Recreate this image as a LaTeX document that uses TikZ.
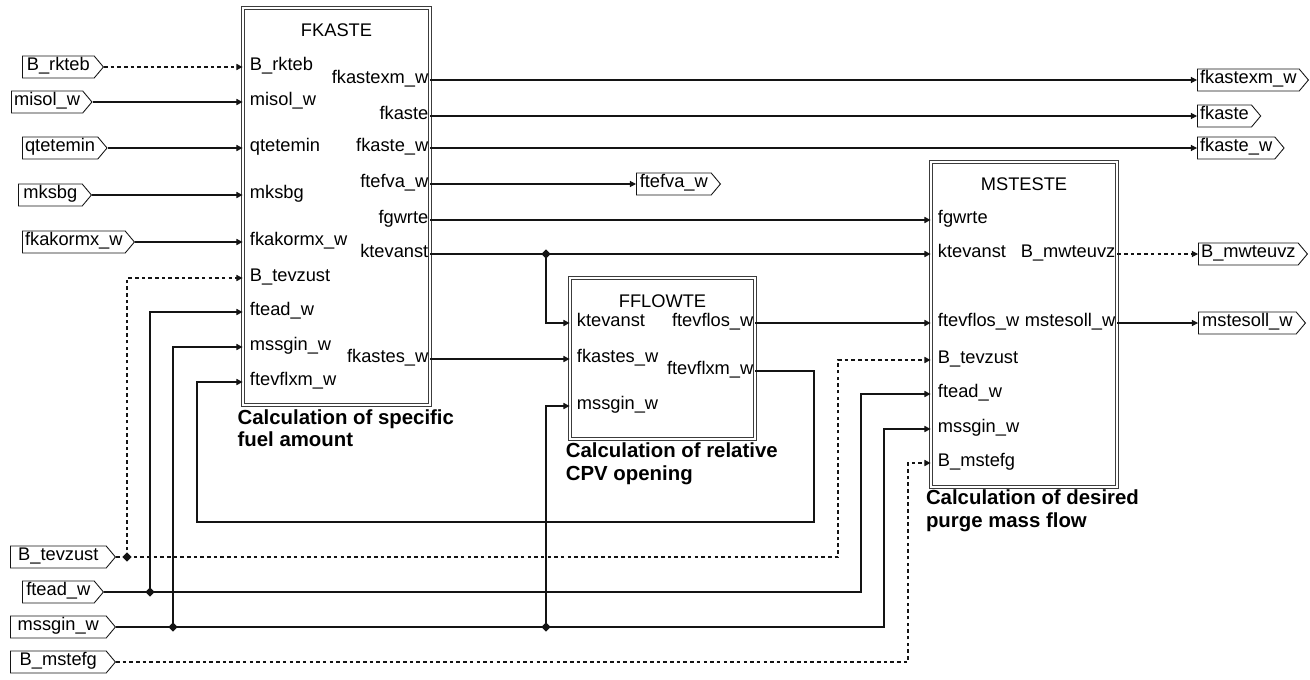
\documentclass[tikz,border=0pt]{standalone}
\usepackage{fontspec}
\setmainfont{Liberation Sans}
\usepackage{tikz}
\usetikzlibrary{shapes.geometric, shapes.symbols, arrows.meta, positioning, calc}
\definecolor{mydark}{RGB}{20,20,20}
\definecolor{myframe}{RGB}{60,60,60}
\newcommand{\portfont}{\fontsize{10.4}{12}\selectfont}
\newcommand{\capfont}{\fontsize{11.6}{13}\selectfont\bfseries}
\tikzset{
  fblock/.style={rectangle, draw=myframe, double, double distance=1.4pt,
    line width=0.5pt, inner sep=0pt},
  blocktitle/.style={font=\portfont, inner sep=0pt},
  portin/.style={anchor=west, font=\portfont, inner xsep=4pt, inner ysep=0pt,
    text height=7pt, text depth=2.5pt},
  portout/.style={anchor=east, font=\portfont, inner xsep=1pt, inner ysep=0pt,
    text height=7pt, text depth=2.5pt},
  sigtag/.style={signal, signal to=east, signal pointer angle=100, draw=mydark,
    line width=0.5pt, font=\portfont, inner xsep=1.5pt, inner ysep=0pt,
    text height=7pt, text depth=2.5pt, minimum height=0.44cm,
    anchor=west, minimum width=#1},
  junc/.style={diamond, fill=mydark, inner sep=0pt, minimum size=5.5pt},
  wire/.style={-{Triangle[length=3.5pt,width=3.5pt]}, line width=0.6pt, color=mydark},
  flagwire/.style={wire, dash pattern=on 2pt off 1.8pt},
  wireline/.style={line width=0.6pt, color=mydark},
  flagline/.style={wireline, dash pattern=on 2pt off 1.8pt},
  caption/.style={font=\capfont, align=left, anchor=north west, inner sep=0pt}
}

\begin{document}
\begin{tikzpicture}[x=0.02cm, y=-0.02cm]
  \useasboundingbox (0,0) rectangle (1310,679);

  % blocks
  \node[fblock, minimum width=3.74cm, minimum height=7.94cm] (fkaste) at (336.5,206.5) {};
  \node[fblock, minimum width=3.7cm, minimum height=3.22cm] (fflowte) at (662.5,358.5) {};
  \node[fblock, minimum width=3.72cm, minimum height=6.5cm] (msteste) at (1024,324.5) {};

  \node[blocktitle] at ([yshift=-13pt]fkaste.north) {FKASTE};
  \node[blocktitle] at ([yshift=-13.5pt]fflowte.north) {FFLOWTE};
  \node[blocktitle] at ([yshift=-13pt]msteste.north) {MSTESTE};

  \node[caption] at ([xshift=-3pt,yshift=-2pt]fkaste.south west) {Calculation of specific\\fuel amount};
  \node[caption] at ([xshift=-2.3pt,yshift=-1.7pt]fflowte.south west) {Calculation of relative\\CPV opening};
  \node[caption] at ([xshift=-2.8pt,yshift=-1.2pt]msteste.south west) {Calculation of desired\\purge mass flow};

  % FKASTE ports
  \node[portin] (fk-rkteb) at (fkaste.west |- 0,67) {B\_rkteb};
  \node[portin] (fk-misol) at (fkaste.west |- 0,102) {misol\_w};
  \node[portin] (fk-qtetemin) at (fkaste.west |- 0,148) {qtetemin};
  \node[portin] (fk-mksbg) at (fkaste.west |- 0,195) {mksbg};
  \node[portin] (fk-fkakormx) at (fkaste.west |- 0,242) {fkakormx\_w};
  \node[portin] (fk-tevzust) at (fkaste.west |- 0,278) {B\_tevzust};
  \node[portin] (fk-ftead) at (fkaste.west |- 0,312) {ftead\_w};
  \node[portin] (fk-mssgin) at (fkaste.west |- 0,347) {mssgin\_w};
  \node[portin] (fk-ftevflxm) at (fkaste.west |- 0,382) {ftevflxm\_w};
  \node[portout] (fk-fkastexm) at (fkaste.east |- 0,80) {fkastexm\_w};
  \node[portout] (fk-fkaste) at (fkaste.east |- 0,116) {fkaste};
  \node[portout] (fk-fkastew) at (fkaste.east |- 0,148) {fkaste\_w};
  \node[portout] (fk-ftefva) at (fkaste.east |- 0,184) {ftefva\_w};
  \node[portout] (fk-fgwrte) at (fkaste.east |- 0,220) {fgwrte};
  \node[portout] (fk-ktevanst) at (fkaste.east |- 0,254) {ktevanst};
  \node[portout] (fk-fkastes) at (fkaste.east |- 0,359) {fkastes\_w};

  % FFLOWTE ports
  \node[portin] (ff-ktevanst) at (fflowte.west |- 0,323) {ktevanst};
  \node[portin] (ff-fkastes) at (fflowte.west |- 0,359) {fkastes\_w};
  \node[portin] (ff-mssgin) at (fflowte.west |- 0,406) {mssgin\_w};
  \node[portout] (ff-ftevflos) at (fflowte.east |- 0,323) {ftevflos\_w};
  \node[portout] (ff-ftevflxm) at (fflowte.east |- 0,371) {ftevflxm\_w};

  % MSTESTE ports
  \node[portin] (ms-fgwrte) at (msteste.west |- 0,220) {fgwrte};
  \node[portin] (ms-ktevanst) at (msteste.west |- 0,254) {ktevanst};
  \node[portin] (ms-ftevflos) at (msteste.west |- 0,323) {ftevflos\_w};
  \node[portin] (ms-tevzust) at (msteste.west |- 0,360) {B\_tevzust};
  \node[portin] (ms-ftead) at (msteste.west |- 0,394) {ftead\_w};
  \node[portin] (ms-mssgin) at (msteste.west |- 0,429) {mssgin\_w};
  \node[portin] (ms-mstefg) at (msteste.west |- 0,463) {B\_mstefg};
  \node[portout] (ms-mwteuvz) at (msteste.east |- 0,254) {B\_mwteuvz};
  \node[portout] (ms-mstesoll) at (msteste.east |- 0,323) {mstesoll\_w};

  % input tags
  \node[sigtag=1.62cm] (t-rkteb) at (22,67) {B\_rkteb};
  \node[sigtag=1.6cm] (t-misol) at (11,102) {misol\_w};
  \node[sigtag=1.62cm] (t-qtetemin) at (22,148) {qtetemin};
  \node[sigtag=1.46cm] (t-mksbg) at (18,195) {mksbg};
  \node[sigtag=2.08cm] (t-fkakormx) at (22,242) {fkakormx\_w};
  \node[sigtag=2.1cm] (t-tevzust) at (10,557) {B\_tevzust};
  \node[sigtag=1.62cm] (t-ftead) at (22,592) {ftead\_w};
  \node[sigtag=2.1cm] (t-mssgin) at (10,627) {mssgin\_w};
  \node[sigtag=2.1cm] (t-mstefg) at (10,662) {B\_mstefg};

  % output tags
  \node[sigtag=2.06cm] (t-fkastexm) at (1197,80) {fkastexm\_w};
  \node[sigtag=1.2cm] (t-fkaste) at (1197,116) {fkaste};
  \node[sigtag=1.72cm] (t-fkastew) at (1197,148) {fkaste\_w};
  \node[sigtag=1.68cm] (t-ftefva) at (636,184) {ftefva\_w};
  \node[sigtag=2.14cm] (t-mwteuvz) at (1198,254) {B\_mwteuvz};
  \node[sigtag=2.14cm] (t-mstesoll) at (1198,323) {mstesoll\_w};

  % junctions and bends
  \node[junc] (j-tevzust) at (127,557) {};
  \node[junc] (j-ftead) at (150,592) {};
  \node[junc] (j-mss1) at (173,627) {};
  \node[junc] (j-mss2) at (546,627) {};
  \node[junc] (j-ktev) at (546,254) {};
  \coordinate (b-tevzust) at (838,557);
  \coordinate (b-ftead) at (861,592);
  \coordinate (b-mssgin) at (884,627);
  \coordinate (b-mstefg) at (908,662);
  \coordinate (loop-r) at (814,522);
  \coordinate (loop-l) at (197,522);

  % inputs into FKASTE
  \draw[flagwire] (t-rkteb.east) -- (fk-rkteb.west);
  \draw[wire] (t-misol.east) -- (fk-misol.west);
  \draw[wire] (t-qtetemin.east) -- (fk-qtetemin.west);
  \draw[wire] (t-mksbg.east) -- (fk-mksbg.west);
  \draw[wire] (t-fkakormx.east) -- (fk-fkakormx.west);

  % bottom signals
  \draw[flagline] (t-tevzust.east) -- (j-tevzust.center);
  \draw[flagwire] (j-tevzust.center) |- (fk-tevzust.west);
  \draw[flagwire] (j-tevzust.center) -- (b-tevzust) |- (ms-tevzust.west);
  \draw[wireline] (t-ftead.east) -- (j-ftead.center);
  \draw[wire] (j-ftead.center) |- (fk-ftead.west);
  \draw[wire] (j-ftead.center) -- (b-ftead) |- (ms-ftead.west);
  \draw[wireline] (t-mssgin.east) -- (j-mss1.center) -- (j-mss2.center);
  \draw[wire] (j-mss1.center) |- (fk-mssgin.west);
  \draw[wire] (j-mss2.center) |- (ff-mssgin.west);
  \draw[wire] (j-mss2.center) -- (b-mssgin) |- (ms-mssgin.west);
  \draw[flagwire] (t-mstefg.east) -- (b-mstefg) |- (ms-mstefg.west);

  % feedback loop
  \draw[wire] (ff-ftevflxm.east) -| (loop-r) -- (loop-l) |- (fk-ftevflxm.west);

  % between blocks
  \draw[wireline] (fk-ktevanst.east) -- (j-ktev.center);
  \draw[wire] (j-ktev.center) -- (ms-ktevanst.west);
  \draw[wire] (j-ktev.center) |- (ff-ktevanst.west);
  \draw[wire] (fk-fkastes.east) -- (ff-fkastes.west);
  \draw[wire] (fk-fgwrte.east) -- (ms-fgwrte.west);
  \draw[wire] (ff-ftevflos.east) -- (ms-ftevflos.west);

  % outputs
  \draw[wire] (fk-fkastexm.east) -- (t-fkastexm.west);
  \draw[wire] (fk-fkaste.east) -- (t-fkaste.west);
  \draw[wire] (fk-fkastew.east) -- (t-fkastew.west);
  \draw[wire] (fk-ftefva.east) -- (t-ftefva.west);
  \draw[flagwire] (ms-mwteuvz.east) -- (t-mwteuvz.west);
  \draw[wire] (ms-mstesoll.east) -- (t-mstesoll.west);
\end{tikzpicture}
\end{document}
